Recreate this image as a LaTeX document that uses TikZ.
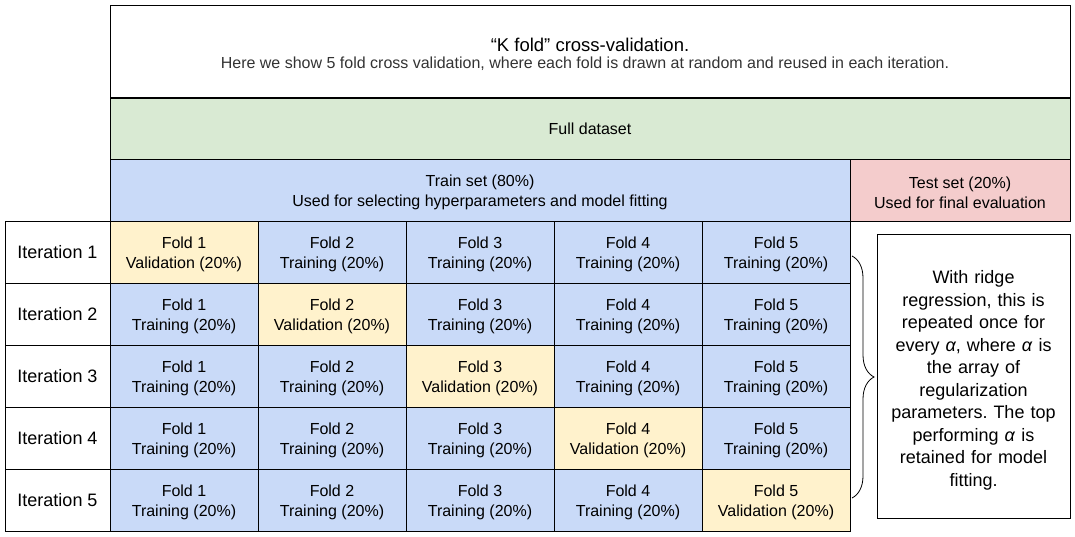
\documentclass[tikz,border=0pt]{standalone}
\usepackage{fontspec}
\setmainfont{Liberation Sans}
\usetikzlibrary{decorations.pathreplacing}
\definecolor{cgreen}{HTML}{D9EAD3}
\definecolor{cblue}{HTML}{C9DAF8}
\definecolor{cred}{HTML}{F4CCCC}
\definecolor{cyel}{HTML}{FFF2CC}
\definecolor{subgray}{HTML}{333333}
\frenchspacing
\newcommand{\dn}{\rule{0pt}{17pt}}
\begin{document}
\begin{tikzpicture}[x=1pt,y=-1pt,
  box/.style={draw=black,line width=0.8pt,inner sep=0pt,outer sep=0pt,align=center},
  cell/.style={box,minimum width=148pt,minimum height=62pt,font=\fontsize{16}{20}\selectfont},
  train/.style={cell,fill=cblue},
  valid/.style={cell,fill=cyel},
  iterlab/.style={box,minimum width=105pt,minimum height=62pt,font=\fontsize{18}{20}\selectfont}]
\useasboundingbox (0,0) rectangle (1075,536);
% header
\node[box,minimum width=960pt,minimum height=93pt] (hdr) at (590,51.5) {};
\node[font=\fontsize{18.5}{20}\selectfont] (title) at (590,45) {“K fold” cross-validation.};
\node[font=\fontsize{16}{18}\selectfont,text=subgray] (sub) at (585,64) {Here we show 5 fold cross validation, where each fold is drawn at random and reused in each iteration.};
\node[box,fill=cgreen,minimum width=960pt,minimum height=61pt,font=\fontsize{16}{20}\selectfont] (full) at (590,128.5) {Full dataset};
\draw[line width=1.6pt] (hdr.south west) -- (hdr.south east);
\node[box,fill=cblue,minimum width=740pt,minimum height=62pt,font=\fontsize{16}{20}\selectfont] (trainset) at (480,190) {\dn Train set (80\%)\\Used for selecting hyperparameters and model fitting};
\node[box,fill=cred,minimum width=220pt,minimum height=62pt,font=\fontsize{16}{20}\selectfont] (testset) at (960,190) {\dn Test set (20\%)\\Used for final evaluation};
% grid
\foreach \r in {1,...,5}{
  \pgfmathsetmacro{\yy}{221+62*(\r-1)+31}
  \node[iterlab] (it\r) at (57.5,\yy) {Iteration \r};
  \foreach \c in {1,...,5}{
    \pgfmathsetmacro{\xx}{110+148*(\c-1)+74}
    \ifnum\r=\c
      \node[valid] (f\r\c) at (\xx,\yy) {\dn Fold \c\\Validation (20\%)};
    \else
      \node[train] (f\r\c) at (\xx,\yy) {\dn Fold \c\\Training (20\%)};
    \fi
  }
}
% note
\node[box,minimum width=193pt,minimum height=284pt,text width=190pt,font=\fontsize{18}{22.5}\selectfont] (note) at (973.5,376) {\rule{0pt}{22pt}With ridge\\regression, this is\\repeated once for\\every \textit{α}, where \textit{α} is\\the array of\\regularization\\parameters. The top\\performing \textit{α} is\\retained for model\\fitting.};
\coordinate (bt) at (852,256);
\coordinate (bb) at (852,498);
\draw[line width=0.8pt,decorate,decoration={brace,amplitude=22pt}] (bt) -- (bb);
\end{tikzpicture}
\end{document}
